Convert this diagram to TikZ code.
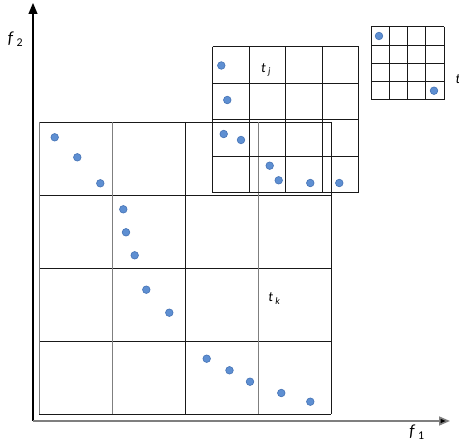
\documentclass[tikz,border=0pt]{standalone}
\usepackage{fontspec}
\setmainfont{Carlito}
\usetikzlibrary{arrows.meta}
\definecolor{dotfill}{HTML}{5E8FD2}
\definecolor{dotline}{HTML}{4472B4}
\definecolor{gline}{HTML}{7F7F7F}
\tikzset{
  dot/.style={circle,fill=dotfill,draw=dotline,line width=0.6pt,inner sep=0pt,minimum size=7.6pt},
  gk/.style={draw=black!90,line width=0.9pt},
  gg/.style={draw=gline,line width=0.9pt},
  axarrow/.style={-{Triangle[length=11pt,width=9pt]}},
  lab/.style={inner sep=0pt,font=\fontsize{17}{17}\selectfont},
  tlab/.style={inner sep=0pt,font=\fontsize{14}{14}\selectfont}
}
\begin{document}
\begin{tikzpicture}[x=1pt,y=-1pt]
\useasboundingbox (0,0) rectangle (459,446);
% axes
\coordinate (O) at (33,421);
\coordinate (Ytop) at (33,3);
\coordinate (Xend) at (450,421);
\draw[axarrow,black,line width=1.2pt] (O) -- (Ytop);
\draw[axarrow,gline,line width=1.6pt,arrows={-{Triangle[length=11pt,width=9pt,fill=black]}}] (O) -- (Xend);
% big grid (cell 73)
\foreach \y in {122,195,268,341,414} \draw[gk] (39,\y) -- (331,\y);
\draw[gg] (39,122) -- (39,414);
\draw[gg] (112,122) -- (112,414);
\draw[gk] (185,122) -- (185,414);
\draw[gg] (258,122) -- (258,414);
\draw[gk] (331,122) -- (331,414);
% t_j grid (cell 36.5)
\foreach \y in {46.7,83.2,119.7,156.2,192.7} \draw[gk] (212.7,\y) -- (358.7,\y);
\foreach \x in {212.7,249.2,285.7,322.2,358.7} \draw[gk] (\x,46.7) -- (\x,192.7);
% small grid (cell 18.3)
\foreach \y in {26.7,45,63.3,81.6,99.9} \draw[gk] (371,\y) -- (444.2,\y);
\foreach \x in {371,389.3,407.6,425.9,444.2} \draw[gk] (\x,26.7) -- (\x,99.9);
% dots
\node[dot] (p1) at (54.7,137.3) {};
\node[dot] (p2) at (77.3,157.3) {};
\node[dot] (p3) at (100.3,183.3) {};
\node[dot] (p4) at (123.3,209.3) {};
\node[dot] (p5) at (126,232.3) {};
\node[dot] (p6) at (134.7,255.3) {};
\node[dot] (p7) at (146.3,289.7) {};
\node[dot] (p8) at (169.3,312.7) {};
\node[dot] (p9) at (206.7,358.7) {};
\node[dot] (p10) at (229.5,370.3) {};
\node[dot] (p11) at (250,381.7) {};
\node[dot] (p12) at (281.3,393) {};
\node[dot] (p13) at (310.3,401.7) {};
\node[dot] (q1) at (221.3,65.5) {};
\node[dot] (q2) at (227.3,100) {};
\node[dot] (q3) at (223.7,134) {};
\node[dot] (q4) at (241,140) {};
\node[dot] (q5) at (269.7,165.7) {};
\node[dot] (q6) at (278.7,180.3) {};
\node[dot] (q7) at (310.3,183) {};
\node[dot] (q8) at (339.3,183) {};
\node[dot] (r1) at (379,36) {};
\node[dot] (r2) at (434,90.7) {};
% labels
\node[lab] (f2) at (15.5,39) {\textit{f}\,\textsubscript{2}};
\node[lab] (f1) at (417,432) {\textit{f}\,\textsubscript{1}};
\node[tlab] (tj) at (266,70) {\textit{t}\,\textsubscript{\textit{j}}};
\node[tlab] (tk) at (274.5,298.5) {\textit{t}\,\textsubscript{\textit{k}}};
\node[tlab,anchor=west] (ti) at (455.5,79.5) {\textit{t}};
\end{tikzpicture}
\end{document}
